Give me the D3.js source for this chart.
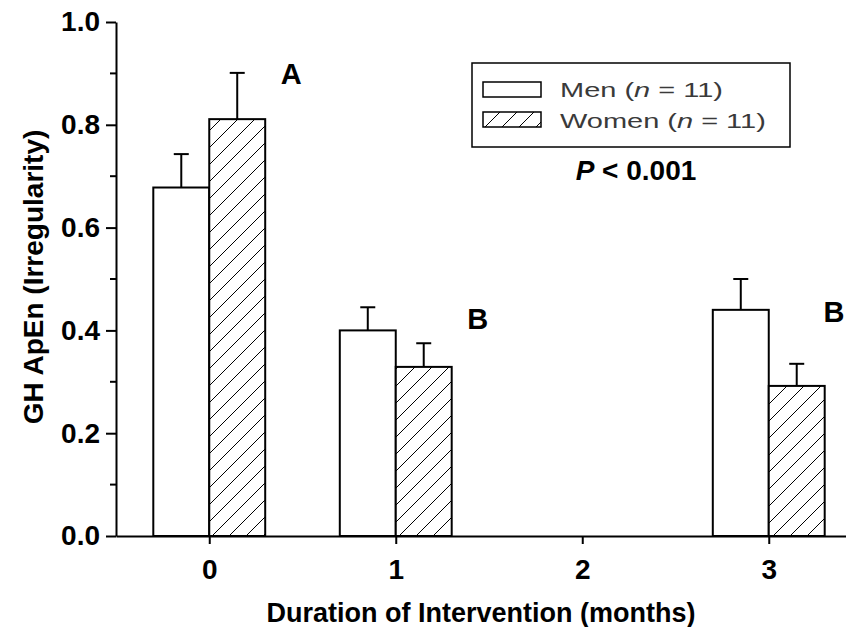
<!DOCTYPE html>
<html>
<head>
<meta charset="utf-8">
<script src="https://cdn.jsdelivr.net/npm/d3@7"></script>
<style>
  body { margin: 0; background: #fff; }
  svg { display: block; }
  text { font-family: "Liberation Sans", Arial, sans-serif; fill: #000; }
</style>
</head>
<body>
<div id="chart"></div>
<script>
var svgWidth = 846;
var svgHeight = 627;

// data
var months = [0, 1, 3];
var menMean = [0.678, 0.400, 0.440];
var menSem = [0.065, 0.045, 0.060];
var womenMean = [0.811, 0.329, 0.292];
var womenSem = [0.090, 0.046, 0.043];

var xTickValues = [0, 1, 2, 3];
var yTickValues = [0, 0.2, 0.4, 0.6, 0.8, 1.0];
var yMinorTicks = [0.1, 0.3, 0.5, 0.7, 0.9];

var letterText = ["A", "B", "B"];
var letterX = [0.44, 1.44, 3.35];
var letterY = [0.879, 0.403, 0.416];

var legendNames = ["Men", "Women"];
var legendN = [11, 11];

var barW = 0.3;

var svg = d3.select("#chart").append("svg")
  .attr("width", svgWidth)
  .attr("height", svgHeight);

var defs = svg.append("defs");
var hatch = defs.append("pattern")
  .attr("id", "hatch")
  .attr("patternUnits", "userSpaceOnUse")
  .attr("width", 17)
  .attr("height", 17);
hatch.append("rect").attr("width", 17).attr("height", 17).attr("fill", "#fff");
hatch.append("path")
  .attr("d", "M0,17 L17,0 M-4,4 L4,-4 M13,21 L21,13")
  .attr("stroke", "#000")
  .attr("stroke-width", 1);

var x = d3.scaleLinear().domain([-0.5, 3.5]).range([116, 862]);
var y = d3.scaleLinear().domain([0, 1]).range([536, 22]);

// bars
var series = [
  { mean: menMean, sem: menSem, off: -barW, fill: "#fff" },
  { mean: womenMean, sem: womenSem, off: 0, fill: "url(#hatch)" }
];

series.forEach(function(s) {
  svg.append("g").selectAll("rect")
    .data(months)
    .enter()
    .append("rect")
    .attr("x", (m) => x(m + s.off))
    .attr("width", x(barW) - x(0))
    .attr("y", (m, i) => y(s.mean[i]))
    .attr("height", (m, i) => y(0) - y(s.mean[i]))
    .attr("fill", s.fill)
    .attr("stroke", "#000")
    .attr("stroke-width", 2);

  var eb = svg.append("g").selectAll("g")
    .data(months)
    .enter()
    .append("g");
  eb.append("line")
    .attr("x1", (m) => x(m + s.off + barW / 2))
    .attr("x2", (m) => x(m + s.off + barW / 2))
    .attr("y1", (m, i) => y(s.mean[i]))
    .attr("y2", (m, i) => y(s.mean[i] + s.sem[i]))
    .attr("stroke", "#000")
    .attr("stroke-width", 2);
  eb.append("line")
    .attr("x1", (m) => x(m + s.off + barW / 2) - 7.5)
    .attr("x2", (m) => x(m + s.off + barW / 2) + 7.5)
    .attr("y1", (m, i) => y(s.mean[i] + s.sem[i]))
    .attr("y2", (m, i) => y(s.mean[i] + s.sem[i]))
    .attr("stroke", "#000")
    .attr("stroke-width", 2);
});

// axes
var yAxis = d3.axisLeft(y)
  .tickValues(yTickValues)
  .tickFormat(d3.format(".1f"))
  .tickSize(10)
  .tickSizeOuter(0)
  .tickPadding(6);

var yG = svg.append("g")
  .attr("transform", `translate(${x(-0.5)}, 0)`)
  .call(yAxis);

yG.selectAll(".minor")
  .data(yMinorTicks)
  .enter()
  .append("line")
  .attr("class", "minor")
  .attr("x1", -6).attr("x2", 0)
  .attr("y1", (d) => y(d)).attr("y2", (d) => y(d))
  .attr("stroke", "#000")
  .attr("stroke-width", 2);

var xAxis = d3.axisBottom(x)
  .tickValues(xTickValues)
  .tickFormat(d3.format("d"))
  .tickSize(8)
  .tickSizeOuter(0)
  .tickPadding(15);

var xG = svg.append("g")
  .attr("transform", `translate(0, ${y(0)})`)
  .call(xAxis);

[yG, xG].forEach(function(g) {
  g.select(".domain").attr("stroke-width", 2);
  g.selectAll(".tick line").attr("stroke-width", 2);
  g.selectAll(".tick text")
    .style("font-size", "28px")
    .style("font-weight", "bold")
    .attr("fill", "#000");
});

// axis titles
svg.append("text")
  .attr("transform", `translate(43, ${277}) rotate(-90)`)
  .attr("text-anchor", "middle")
  .style("font-size", "28px")
  .style("font-weight", "bold")
  .text("GH ApEn (Irregularity)");

svg.append("text")
  .attr("x", 481)
  .attr("y", 622)
  .attr("text-anchor", "middle")
  .style("font-size", "27px")
  .style("font-weight", "bold")
  .text("Duration of Intervention (months)");

// significance letters
svg.append("g").selectAll("text")
  .data(letterText)
  .enter()
  .append("text")
  .attr("x", (d, i) => x(letterX[i]))
  .attr("y", (d, i) => y(letterY[i]))
  .attr("text-anchor", "middle")
  .style("font-size", "29px")
  .style("font-weight", "bold")
  .text((d) => d);

// legend
svg.append("rect")
  .attr("x", 472).attr("y", 63)
  .attr("width", 318).attr("height", 84)
  .attr("fill", "#fff")
  .attr("stroke", "#000")
  .attr("stroke-width", 1.5);

var swatchY = [82, 112];
var textY = [97, 128];
legendNames.forEach(function(name, i) {
  svg.append("rect")
    .attr("x", 483).attr("y", swatchY[i])
    .attr("width", 58).attr("height", 15)
    .attr("fill", i === 0 ? "#fff" : "url(#hatch)")
    .attr("stroke", "#000")
    .attr("stroke-width", 1.5);
  var t = svg.append("g")
    .attr("transform", `translate(560, ${textY[i]}) scale(1.38, 1)`)
    .append("text")
    .style("font-size", "21px")
    .style("fill", "#3a3a3a");
  t.append("tspan").text(name + " (");
  t.append("tspan").style("font-style", "italic").text("n");
  t.append("tspan").text(" = " + legendN[i] + ")");
});

var p = svg.append("text")
  .attr("x", 636)
  .attr("y", 180)
  .attr("text-anchor", "middle")
  .style("font-size", "28px")
  .style("font-weight", "bold");
p.append("tspan").style("font-style", "italic").text("P");
p.append("tspan").text(" < 0.001");
</script>
</body>
</html>
